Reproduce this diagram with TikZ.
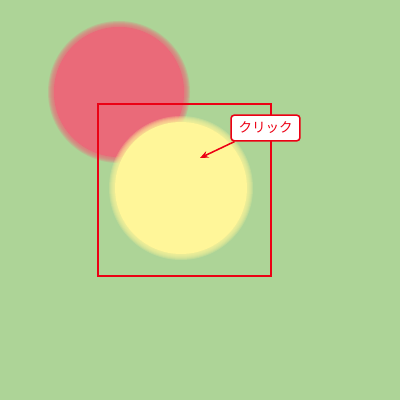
\documentclass[tikz,border=0pt]{standalone}
\usepackage{fontspec}
\newfontfamily\jpfont{Noto Sans CJK JP}
\usetikzlibrary{arrows.meta, positioning}
\definecolor{bggreen}{RGB}{173,212,151}
\definecolor{roseball}{RGB}{234,106,121}
\definecolor{lemonball}{RGB}{255,246,153}
\definecolor{markred}{RGB}{236,0,20}

\begin{document}
\begin{tikzpicture}[x=0.025cm, y=-0.025cm, >={Stealth[length=6pt, width=5pt]},
      ball/.style={fill opacity=0.22},
      frame/.style={draw=markred, line width=1.4pt},
      callout/.style={draw=markred, fill=white, line width=1.1pt, rounded corners=2.2pt,
                  minimum width=1.72cm, minimum height=0.64cm, inner sep=0pt,
                  font=\jpfont\fontsize{9.6}{10}\selectfont, text=markred}]

    % ---- Background ----
    \fill[bggreen] (0,0) rectangle (400,400);
    \useasboundingbox (0,0) rectangle (400,400);

    % ---- Soft balls ----
    \coordinate (rose) at (119,92);
    \coordinate (lemon) at (181,188);
    \fill[roseball] (rose) circle (65);
    \foreach \r in {65,66,...,71} {\fill[roseball, ball] (rose) circle (\r);}
    \fill[lemonball] (lemon) circle (66);
    \foreach \r in {66,67,...,72} {\fill[lemonball, ball] (lemon) circle (\r);}

    % ---- Selection frame ----
    \draw[frame] (98,104) rectangle (271,276);

    % ---- Callout ----
    \node[callout] (click) at (265.5,128) {クリック};
    \coordinate (tip) at (200,158);
    \draw[->, markred, line width=1.1pt] ([xshift=3pt]click.south west) -- (tip);

\end{tikzpicture}
\end{document}
